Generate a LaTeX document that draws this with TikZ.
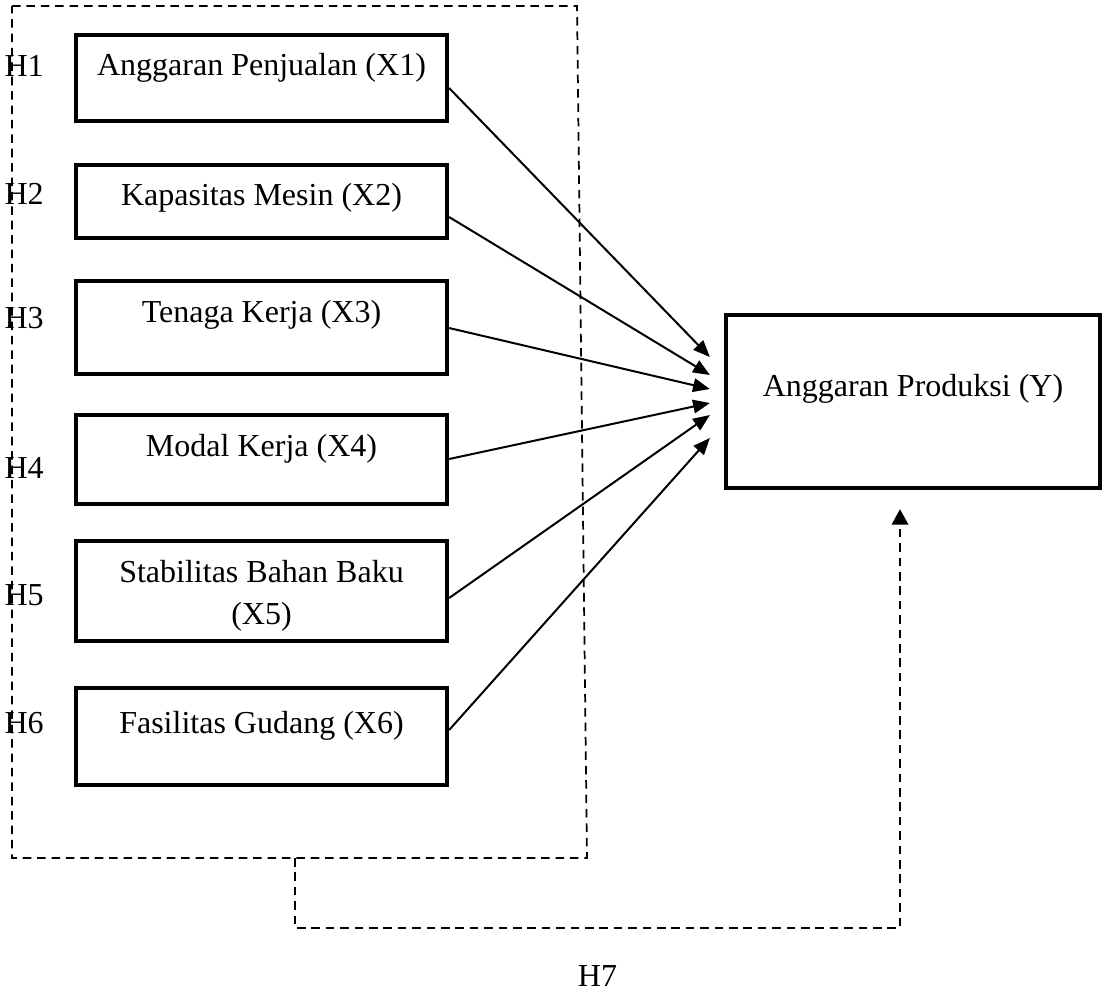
\documentclass[tikz,border=0pt]{standalone}
\usepackage{fontspec}
\setmainfont{Liberation Serif}
\usetikzlibrary{arrows.meta,calc,positioning}

\begin{document}
\begin{tikzpicture}[
  x=0.375pt,y=-0.375pt,
  >=Triangle,
  varbox/.style={draw=black,line width=1.6pt,minimum width=139.1pt,inner sep=0pt},
  vartext/.style={font=\fontsize{12pt}{15.75pt}\selectfont,align=center,inner sep=0pt},
  hyplabel/.style={font=\fontsize{12pt}{15pt}\selectfont,inner sep=0pt},
  effect/.style={draw=black,line width=0.75pt,-{Triangle[length=6.3pt,width=5.1pt]}},
  groupframe/.style={draw=black,line width=0.65pt,dash pattern=on 3.2pt off 2.2pt},
  joint/.style={groupframe,-{Triangle[length=5.8pt,width=6.2pt]}}
]
  \useasboundingbox (0,0) rectangle (1104,994);

  % Dashed frame round the six independent variables.
  \coordinate (frameNW) at (12,6);
  \coordinate (frameNE) at (577,6);
  \coordinate (frameSE) at (587,858);
  \coordinate (frameSW) at (12,858);
  \draw[groupframe] (frameNW) -- (frameNE) -- (frameSE) -- (frameSW) -- cycle;

  % Independent variables.
  \node[varbox,minimum height=32.25pt] (x1) at (261.5,78) {};
  \node[varbox,minimum height=27.4pt] (x2) at (261.5,201.5) {};
  \node[varbox,minimum height=34.9pt] (x3) at (261.5,327.5) {};
  \node[varbox,minimum height=33.4pt] (x4) at (261.5,459.5) {};
  \node[varbox,minimum height=37.5pt] (x5) at (261.5,591) {};
  \node[varbox,minimum height=36.4pt] (x6) at (261.5,736.5) {};
  \node[vartext] (x1text) at ($(x1)+(0,-10.5)$) {Anggaran Penjualan (X1)};
  \node[vartext] (x2text) at ($(x2)+(0,-3.5)$) {Kapasitas Mesin (X2)};
  \node[vartext] (x3text) at ($(x3)+(0,-12.5)$) {Tenaga Kerja (X3)};
  \node[vartext] (x4text) at ($(x4)+(0,-10.5)$) {Modal Kerja (X4)};
  \node[vartext] (x5text) at ($(x5)+(0,4.5)$) {Stabilitas Bahan Baku\\(X5)};
  \node[vartext] (x6text) at ($(x6)+(0,-11)$) {Fasilitas Gudang (X6)};

  % Dependent variable.
  \node[varbox,minimum width=140.25pt,minimum height=64.9pt] (prod) at (913,401.5) {};
  \node[vartext] (prodtext) at ($(prod)+(0,-12.5)$) {Anggaran Produksi (Y)};

  % Hypothesis labels.
  \node[hyplabel,anchor=west] (h1) at (4,65.5) {H1};
  \node[hyplabel,anchor=west] (h2) at (4,194) {H2};
  \node[hyplabel,anchor=west] (h3) at (4,318) {H3};
  \node[hyplabel,anchor=west] (h4) at (4,468) {H4};
  \node[hyplabel,anchor=west] (h5) at (4,595) {H5};
  \node[hyplabel,anchor=west] (h6) at (4,723) {H6};
  \node[hyplabel] (h7) at (597.5,976) {H7};

  % Partial effects.
  \foreach \src/\from/\to in {x1/10/-44.5,x2/15.5/-26.5,x3/0.5/-12.5,
      x4/-0.5/1.5,x5/7/13.5,x6/-6.5/36.5}
    \draw[effect] ($(\src.east)+(0,\from)$) -- ($(prod.west)+(-14,\to)$);

  % Joint effect.
  \coordinate (h7start) at (295,858);
  \coordinate (h7end) at ($(prod.south)+(-13,19)$);
  \draw[joint] (h7start) -- ++(0,70) -| (h7end);
\end{tikzpicture}
\end{document}
